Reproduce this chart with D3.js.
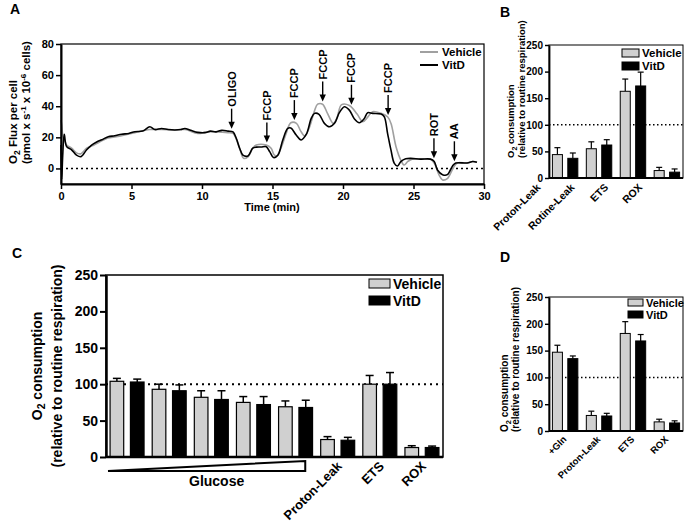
<!DOCTYPE html>
<html><head><meta charset="utf-8">
<script src="https://cdn.jsdelivr.net/npm/d3@7"></script>
<style>
body{margin:0;background:#fff}
svg{display:block}
text{font-family:"Liberation Sans",Arial,Helvetica,sans-serif;font-weight:bold;fill:#000}
</style>
</head><body>
<svg id="c" width="685" height="525"></svg>
<script>
// ---------------- DATA ----------------
// Panel A: O2 flux traces [time (min), flux]
const vitdTrace = [[0,15],[0.05,-7],[0.12,8],[0.23,22],[0.4,14],[0.75,12],[1.1,8.6],[1.42,7.6],[1.82,12],[2.17,15],[2.53,17],[2.9,18.5],[3.35,20.4],[3.8,21],[4.3,22],[4.8,22.5],[5.24,23.6],[5.8,24],[6.3,26.8],[6.65,25],[7.13,25.7],[7.6,25],[8.07,24.7],[8.5,25],[8.78,25.7],[9.2,24.5],[9.7,23.2],[10.2,23],[10.6,24],[11.0,23.5],[11.4,24.5],[11.84,24],[12.2,23.5],[12.43,19.4],[12.67,13],[12.9,8.6],[13.26,8],[13.6,13],[13.85,13.7],[14.2,13.8],[14.56,14],[14.8,10.8],[15.07,7],[15.38,8.5],[15.73,18.3],[16.08,25.7],[16.3,26],[16.68,21.5],[17.03,18.3],[17.4,22],[17.74,32],[17.98,35.4],[18.3,34.8],[18.68,29],[19.04,26.8],[19.4,29],[19.75,36],[20.1,39.7],[20.45,37.5],[20.8,32],[21.16,29.4],[21.5,32],[21.75,35.8],[22.1,35.4],[22.7,35],[22.93,33.2],[23.16,22.6],[23.4,11.9],[23.64,3.3],[23.87,1.6],[24.1,4.4],[24.45,6.2],[24.8,6.5],[25.5,6],[26.2,6],[26.47,4.5],[26.7,-1],[27.06,-4],[27.4,-4],[27.77,1.6],[28.0,3.5],[28.8,3.5],[29.2,4.5],[29.5,4]];
const vehTrace = [[0,31],[0.05,28],[0.15,20],[0.3,17],[0.4,15],[0.75,13],[1.1,10],[1.42,9.5],[1.82,13],[2.2,14.5],[2.53,16],[3.35,19.5],[4.3,21],[5.24,23],[6.3,25],[7.13,25],[8.07,24.7],[8.8,25],[9.7,22.5],[10.4,23.5],[11.0,23.5],[11.84,23],[12.2,22.5],[12.45,18.5],[12.7,12],[12.95,6.5],[13.26,7.5],[13.6,13],[13.85,15],[14.56,15],[14.9,13],[15.1,9],[15.3,8],[15.6,13],[15.95,22],[16.3,29.4],[16.7,29],[17.0,24],[17.3,20.8],[17.6,26],[17.98,37],[18.2,41.3],[18.55,41.3],[18.9,35.4],[19.3,29],[19.55,32],[19.9,41],[20.45,40.5],[21.0,35],[21.4,30],[21.75,33],[22.1,36.5],[22.7,35.4],[23.16,33.2],[23.4,29],[23.76,14],[24.1,5.4],[24.33,2.2],[24.6,4.5],[24.9,6],[25.5,6],[26.2,6],[26.5,3],[26.8,-4],[27.06,-7.4],[27.4,-6.5],[27.8,0],[28.1,3.5],[28.8,3.5],[29.2,4.5],[29.5,4]];
const injectionLabels = ["OLIGO","FCCP","FCCP","FCCP","FCCP","FCCP","ROT","AA"];
const injectionTimes  = [12.1, 14.6, 16.55, 18.56, 20.6, 23.2, 26.45, 27.9];
const timeTicks = [0,5,10,15,20,25,30];
const fluxTicks = [0,20,40,60,80];
const seriesNames = ["Vehicle","VitD"];

// Panel B
const bCats = ["Proton-Leak","Rotine-Leak","ETS","ROX"];
const bVeh = [44,55,163,14];
const bVehErr = [13,13,23,6];
const bVitd = [37,62,173,11];
const bVitdErr = [10,10,26,6];

// Panel C
const cCats = ["G1","G2","G3","G4","G5","Proton-Leak","ETS","ROX"];
const cLabels = ["","","","","","Proton-Leak","ETS","ROX"];
const cVeh = [104,93,82,75,69,24,100,13];
const cVehErr = [4,7,9,8,8,4,12,2.5];
const cVitd = [103,91,79,72,68,23,100,13];
const cVitdErr = [4,8,12,11,10,4,16,2];

// Panel D
const dCats = ["+Gln","Proton-Leak","ETS","ROX"];
const dVeh = [147,29,182,17];
const dVehErr = [13,8,22,5];
const dVitd = [135,28,168,15];
const dVitdErr = [5,5,12,4];

const relTicks = [0,50,100,150,200,250];

// ---------------- DRAW ----------------
const svg = d3.select("#c");
const GRAY_LINE = "#a0a0a0";
const GRAY_BAR = "#d0d0d0";

// panel letters
[["A",10,14],["B",500,17],["C",12,258],["D",500,262]].forEach(([t,x,y])=>{
  svg.append("text").attr("x",x).attr("y",y).attr("font-size",14).text(t);
});

// ===== Panel A =====
(function(){
  const x = d3.scaleLinear().domain([0,30]).range([61,484]);
  const y = d3.scaleLinear().domain([-10,80]).range([184,44]);
  const g = svg.append("g");
  g.append("line").attr("x1",x(0)).attr("x2",x(30)).attr("y1",y(0)).attr("y2",y(0))
    .attr("stroke","#000").attr("stroke-width",1.5).attr("stroke-dasharray","2,3");
  const line = d3.line().x(d=>x(d[0])).y(d=>y(d[1])).curve(d3.curveCatmullRom.alpha(0.5));
  g.append("path").datum(vehTrace).attr("d",line).attr("fill","none").attr("stroke",GRAY_LINE).attr("stroke-width",1.6);
  g.append("path").datum(vitdTrace).attr("d",line).attr("fill","none").attr("stroke","#000").attr("stroke-width",1.6);
  g.append("rect").attr("x",x(0)).attr("y",y(80)).attr("width",x(30)-x(0)).attr("height",y(-10)-y(80))
    .attr("fill","none").attr("stroke","#000").attr("stroke-width",1.2);
  const ya = g.append("g").attr("transform",`translate(${x(0)},0)`)
    .call(d3.axisLeft(y).tickValues(fluxTicks).tickSize(5).tickSizeOuter(0).tickPadding(2));
  const xa = g.append("g").attr("transform",`translate(0,${y(-10)})`)
    .call(d3.axisBottom(x).tickValues(timeTicks).tickSize(5).tickSizeOuter(0).tickPadding(3));
  [ya,xa].forEach(a=>{
    a.select(".domain").attr("stroke-width",2);
    a.selectAll(".tick line").attr("stroke-width",1.5);
    a.selectAll("text").attr("font-size",11).attr("font-family",null);
  });
  g.append("text").attr("x",272).attr("y",211).attr("text-anchor","middle").attr("font-size",11).text("Time (min)");
  const t1 = g.append("text").attr("transform","translate(17,164) rotate(-90)").attr("font-size",11.5);
  t1.append("tspan").text("O");
  t1.append("tspan").attr("dy",3).attr("font-size",8.5).text("2");
  t1.append("tspan").attr("dy",-3).text(" Flux per cell");
  const t2 = g.append("text").attr("transform","translate(30,164) rotate(-90)").attr("font-size",11.5);
  t2.append("tspan").text("(pmol x s");
  t2.append("tspan").attr("dy",-4).attr("font-size",8).text("-1");
  t2.append("tspan").attr("dy",4).text(" x 10");
  t2.append("tspan").attr("dy",-4).attr("font-size",8).text("-6");
  t2.append("tspan").attr("dy",4).text(" cells)");
  const bis = d3.bisector(d=>d[0]).left;
  function valAt(tr,t){
    const i = Math.max(1,Math.min(tr.length-1,bis(tr,t)));
    const a=tr[i-1], b=tr[i];
    return a[1]+(b[1]-a[1])*(t-a[0])/(b[0]-a[0]);
  }
  injectionTimes.forEach((t,i)=>{
    const px = x(t);
    const tip = y(Math.max(valAt(vehTrace,t),valAt(vitdTrace,t))) - 3;
    g.append("line").attr("x1",px).attr("x2",px).attr("y1",tip-20).attr("y2",tip-5)
      .attr("stroke","#000").attr("stroke-width",1.4);
    g.append("path").attr("d",`M${px-3.2},${tip-7}L${px+3.2},${tip-7}L${px},${tip}Z`).attr("fill","#000");
    g.append("text").attr("transform",`translate(${px+4},${tip-22}) rotate(-90)`).attr("font-size",11)
      .text(injectionLabels[i]);
  });
  [[GRAY_LINE,52,56],["#000",65,69]].forEach(([c,ly,ty],i)=>{
    g.append("line").attr("x1",420).attr("x2",438).attr("y1",ly).attr("y2",ly).attr("stroke",c).attr("stroke-width",2);
    g.append("text").attr("x",442).attr("y",ty).attr("font-size",11.5).text(seriesNames[i]);
  });
})();

// ===== bar panels =====
function barPanel(cfg){
  const g = svg.append("g");
  const x0 = d3.scaleBand().domain(cfg.cats).range([cfg.left,cfg.right]).paddingInner(cfg.padIn).paddingOuter(cfg.padOut);
  const x1 = d3.scaleBand().domain(seriesNames).range([0,x0.bandwidth()]).paddingInner(cfg.innerPad).paddingOuter(cfg.innerOuter||0);
  const y = d3.scaleLinear().domain([0,250]).range([cfg.bottom,cfg.top]);
  g.append("line").attr("x1",cfg.left).attr("x2",cfg.right).attr("y1",y(100)).attr("y2",y(100))
    .attr("stroke","#000").attr("stroke-width",cfg.dotW).attr("stroke-dasharray",cfg.dash);
  const series = [
    {name:"Vehicle",vals:cfg.veh,errs:cfg.vehErr,fill:GRAY_BAR},
    {name:"VitD",vals:cfg.vitd,errs:cfg.vitdErr,fill:"#000"}
  ];
  series.forEach(s=>{
    cfg.cats.forEach((c,i)=>{
      const bx = x0(c)+x1(s.name), bw = x1.bandwidth();
      const cx = bx+bw/2;
      const top = y(s.vals[i]), et = y(s.vals[i]+s.errs[i]);
      g.append("line").attr("x1",cx).attr("x2",cx).attr("y1",top).attr("y2",et).attr("stroke","#000").attr("stroke-width",cfg.errW);
      g.append("line").attr("x1",cx-cfg.cap/2).attr("x2",cx+cfg.cap/2).attr("y1",et).attr("y2",et).attr("stroke","#000").attr("stroke-width",cfg.errW);
      g.append("rect").attr("x",bx).attr("y",top).attr("width",bw).attr("height",y(0)-top)
        .attr("fill",s.fill).attr("stroke","#000").attr("stroke-width",cfg.barStroke);
    });
  });
  g.append("rect").attr("x",cfg.left).attr("y",cfg.top).attr("width",cfg.right-cfg.left).attr("height",cfg.bottom-cfg.top)
    .attr("fill","none").attr("stroke","#000").attr("stroke-width",cfg.frameW);
  const ya = g.append("g").attr("transform",`translate(${cfg.left},0)`)
    .call(d3.axisLeft(y).tickValues(relTicks).tickSize(cfg.tick).tickSizeOuter(0).tickPadding(cfg.tickPad));
  ya.select(".domain").attr("stroke-width",cfg.axisW);
  ya.selectAll(".tick line").attr("stroke-width",cfg.axisW*0.8);
  ya.selectAll("text").attr("font-size",cfg.tickFont).attr("font-family",null);
  g.append("line").attr("x1",cfg.left).attr("x2",cfg.right).attr("y1",cfg.bottom).attr("y2",cfg.bottom)
    .attr("stroke","#000").attr("stroke-width",cfg.axisW);
  cfg.cats.forEach((c,i)=>{
    const lab = cfg.labels[i];
    if(!lab) return;
    const cx = x0(c)+x0.bandwidth()/2 + cfg.labDx;
    g.append("text").attr("transform",`translate(${cx},${cfg.bottom+cfg.labDy}) rotate(-45)`)
      .attr("text-anchor","end").attr("font-size",cfg.labFont).text(lab);
  });
  series.forEach((s,i)=>{
    const ly = cfg.legY + i*cfg.legStep;
    g.append("rect").attr("x",cfg.legX).attr("y",ly).attr("width",cfg.legW).attr("height",cfg.legH)
      .attr("fill",s.fill).attr("stroke","#000").attr("stroke-width",1);
    g.append("text").attr("x",cfg.legX+cfg.legW+3).attr("y",ly+cfg.legH+cfg.legTy).attr("font-size",cfg.legFont).text(s.name);
  });
  const t1 = g.append("text").attr("transform",`translate(${cfg.ty1},${cfg.tyY}) rotate(-90)`)
    .attr("font-size",cfg.titleFont).attr("text-anchor",cfg.titleAnchor).attr("font-weight",cfg.titleWeight);
  t1.append("tspan").text("O");
  t1.append("tspan").attr("dy",3).attr("font-size",cfg.titleFont*0.75).text("2");
  t1.append("tspan").attr("dy",-3).text(" consumption");
  g.append("text").attr("transform",`translate(${cfg.ty2},${cfg.tyY}) rotate(-90)`)
    .attr("font-size",cfg.titleFont).attr("text-anchor",cfg.titleAnchor).attr("font-weight",cfg.titleWeight)
    .text("(relative to routine respiration)");
  return {g,x0,x1,y};
}

// Panel B
barPanel({cats:bCats,labels:bCats,veh:bVeh,vehErr:bVehErr,vitd:bVitd,vitdErr:bVitdErr,
  left:549,right:683,top:45,bottom:178,padIn:0.25,padOut:0.1,innerPad:0.35,
  dotW:1.5,dash:"1.5,2.5",errW:1.2,cap:6,barStroke:1,frameW:1,axisW:1.8,tick:4,tickPad:2,tickFont:10,
  labDx:-24,labDy:10,labFont:10.5,legX:622,legY:49,legStep:13,legW:17,legH:8,legTy:0,legFont:11.5,
  ty1:514,ty2:525,tyY:158,titleFont:9.5,titleAnchor:"start",titleWeight:"normal"});

// Panel C
const C = barPanel({cats:cCats,labels:cLabels,veh:cVeh,vehErr:cVehErr,vitd:cVitd,vitdErr:cVitdErr,
  left:106,right:443,top:275,bottom:457,padIn:0,padOut:0,innerPad:0.33,innerOuter:0.2,
  dotW:2,dash:"2,4",errW:1.5,cap:8,barStroke:1.2,frameW:1.5,axisW:2.5,tick:6,tickPad:2,tickFont:14,
  labDx:5,labDy:10,labFont:13,legX:369,legY:279,legStep:17,legW:21,legH:9,legTy:1,legFont:14,
  ty1:42,ty2:62,tyY:366,titleFont:14,titleAnchor:"middle",titleWeight:"bold"});
(function(){
  const xs = C.x0("G1")+2, xe = C.x0("G5")+C.x0.bandwidth()*0.73;
  svg.append("path").attr("d",`M${xs},471L${xe},461L${xe},471Z`).attr("fill","#fff").attr("stroke","#000").attr("stroke-width",2).attr("stroke-linejoin","miter");
  svg.append("text").attr("x",(xs+xe)/2+10).attr("y",486).attr("text-anchor","middle").attr("font-size",14).text("Glucose");
})();

// Panel D
barPanel({cats:dCats,labels:dCats,veh:dVeh,vehErr:dVehErr,vitd:dVitd,vitdErr:dVitdErr,
  left:549,right:683,top:297,bottom:431,padIn:0.25,padOut:0.1,innerPad:0.35,
  dotW:1.5,dash:"1.5,2.5",errW:1.2,cap:6,barStroke:1,frameW:1,axisW:1.8,tick:4,tickPad:2,tickFont:10,
  labDx:2,labDy:9,labFont:9.5,legX:628,legY:299,legStep:12,legW:15,legH:7,legTy:1,legFont:11,
  ty1:508,ty2:519,tyY:432,titleFont:10,titleAnchor:"start",titleWeight:"normal"});
</script>
</body></html>
